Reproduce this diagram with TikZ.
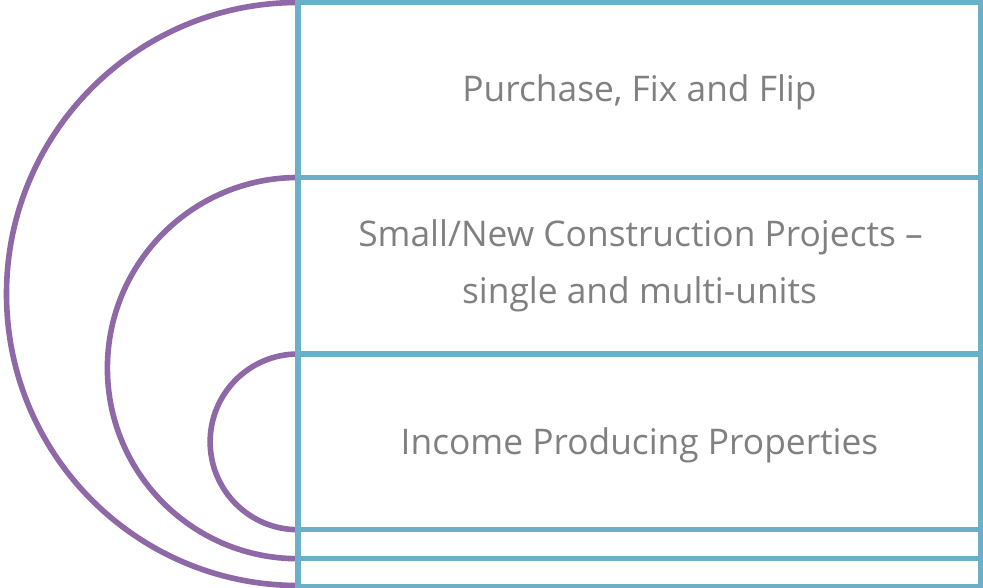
\documentclass[tikz,border=0pt]{standalone}
\usepackage{fontspec}
\setmainfont{Open Sans}
\begin{document}
\definecolor{frameblue}{RGB}{107,175,200}
\definecolor{arcpurple}{RGB}{143,104,168}
\definecolor{labelgray}{RGB}{128,128,128}
\begin{tikzpicture}[x=0.75pt,y=-0.75pt,
  rowbox/.style={draw=frameblue,line width=3.8pt,minimum width=683*0.75pt,inner sep=0pt,outer sep=0pt,anchor=north west},
  ring/.style={draw=arcpurple,line width=4.2pt},
  label/.style={text=labelgray,font=\fontsize{26.5}{43}\selectfont,anchor=base,inner sep=0pt}]
\useasboundingbox (0,0) rectangle (983,588);
% nested half rings on the left edge of the stack
\draw[ring] (298,2.5) arc[start angle=270,end angle=90,radius=291.5];
\draw[ring] (298,177.5) arc[start angle=270,end angle=90,radius=190.6];
\draw[ring] (298,354) arc[start angle=270,end angle=90,radius=87.85];
% stacked rows
\node[rowbox,minimum height=175*0.75pt] (r1) at (298,2.5) {};
\node[rowbox,minimum height=176.5*0.75pt] (r2) at (298,177.5) {};
\node[rowbox,minimum height=175.7*0.75pt] (r3) at (298,354) {};
\node[rowbox,minimum height=29*0.75pt] (r4) at (298,529.7) {};
\node[rowbox,minimum height=27.5*0.75pt] (r5) at (298,558.7) {};
% row labels
\node[label] (t1) at (639.5,102) {Purchase, Fix and Flip};
\node[label] (t2a) at (640.5,247) {Small/New Construction Projects –};
\node[label] (t2b) at (639.5,304) {single and multi-units};
\node[label] (t3) at (639.5,454) {Income Producing Properties};
\end{tikzpicture}
\end{document}
